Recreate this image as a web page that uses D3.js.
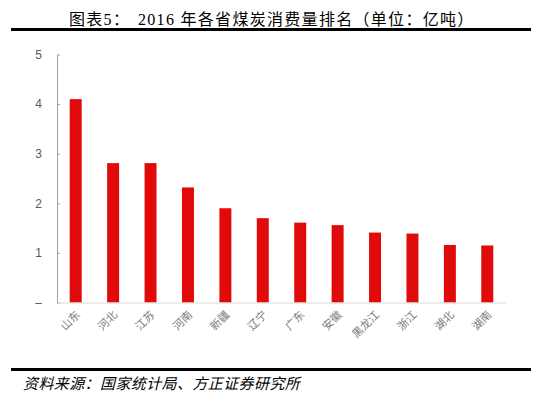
<!DOCTYPE html>
<html lang="zh">
<head>
<meta charset="UTF-8">
<title>2016年各省煤炭消费量排名</title>
<script src="https://cdnjs.cloudflare.com/ajax/libs/d3/7.8.4/d3.min.js"></script>
<style>
  body { margin: 0; background: #fff; }
</style>
</head>
<body>
<div id="chart"></div>
<script>
  // 数据
  const provinces = ["山东", "河北", "江苏", "河南", "新疆", "辽宁", "广东", "安徽", "黑龙江", "浙江", "湖北", "湖南"];
  const consumption = [4.1, 2.81, 2.81, 2.32, 1.9, 1.7, 1.61, 1.56, 1.41, 1.39, 1.16, 1.15];
  const yTicks = [0, 1, 2, 3, 4, 5];

  const w = 557, h = 396;
  const plotLeft = 57, plotRight = 506, plotTop = 54.5, plotBottom = 302.5;

  const svg = d3.select("#chart").append("svg")
    .attr("width", w).attr("height", h);

  // 标题
  const title = svg.append("text")
    .attr("x", 69).attr("y", 25)
    .attr("font-family", "'Liberation Serif', 'Noto Sans CJK SC', serif")
    .attr("font-size", 16)
    .attr("letter-spacing", 1.3)
    .attr("fill", "#000");
  title.append("tspan").text("图表5：");
  title.append("tspan").attr("x", 138).text("2016 年各省煤炭消费量排名（单位：亿吨）");

  svg.append("rect").attr("x", 11).attr("y", 28).attr("width", 520).attr("height", 3).attr("fill", "#000");

  const x = d3.scaleBand().domain(provinces).range([plotLeft, plotRight]).paddingInner(0.68).paddingOuter(0.34);
  const y = d3.scaleLinear().domain([0, 5]).range([plotBottom, plotTop]);

  // y 轴
  const yAxis = d3.axisLeft(y).tickValues(yTicks).tickSize(0).tickPadding(15)
    .tickFormat(d => d === 0 ? "–" : d);
  const gy = svg.append("g").attr("transform", `translate(${plotLeft},0)`).call(yAxis);
  gy.select(".domain").attr("stroke", "#a0a0a0");
  gy.selectAll(".tick text")
    .attr("font-family", "'Liberation Sans', Arial, sans-serif")
    .attr("font-size", 12).attr("fill", "#595959");
  gy.selectAll(".tick").append("line").attr("x1", 0).attr("x2", 3).attr("stroke", "#a0a0a0");

  // 柱子
  svg.selectAll("rect.bar")
    .data(consumption)
    .enter()
    .append("rect")
    .attr("class", "bar")
    .attr("x", (d, i) => x(provinces[i]))
    .attr("y", d => y(d))
    .attr("width", x.bandwidth())
    .attr("height", d => y(0) - y(d))
    .attr("fill", "#e00a0a");

  // x 轴
  const xAxis = d3.axisBottom(x).tickSize(0).tickPadding(0);
  const gx = svg.append("g").attr("transform", `translate(0,${plotBottom})`).call(xAxis);
  gx.select(".domain").attr("stroke", "#d9d9d9");
  gx.selectAll(".tick text")
    .attr("font-family", "'Noto Sans CJK SC', sans-serif")
    .attr("font-size", 11).attr("fill", "#7a7a7a")
    .attr("text-anchor", "end")
    .attr("dy", 0)
    .attr("transform", "translate(5,13) rotate(-45)");

  // 资料来源
  svg.append("rect").attr("x", 11).attr("y", 368).attr("width", 520).attr("height", 3).attr("fill", "#000");
  svg.append("text")
    .attr("x", 23).attr("y", 389)
    .attr("font-family", "'Noto Sans CJK SC', sans-serif")
    .attr("font-size", 15).attr("font-style", "italic")
    .attr("letter-spacing", 0.4)
    .attr("fill", "#000")
    .text("资料来源：国家统计局、方正证券研究所");
</script>
</body>
</html>
